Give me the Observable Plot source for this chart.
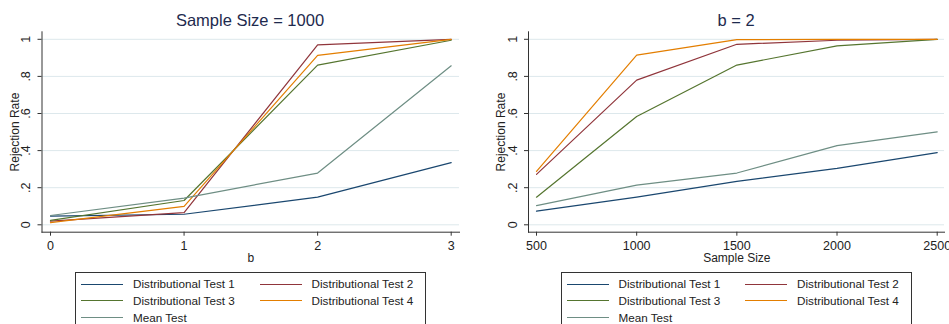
<!DOCTYPE html>
<html>
<head>
<meta charset="utf-8">
<script src="https://cdn.jsdelivr.net/npm/d3@7"></script>
<script src="https://cdn.jsdelivr.net/npm/@observablehq/plot@0.6"></script>
<style>
  html, body { margin: 0; padding: 0; background: #fff; }
  #root { position: relative; width: 949px; height: 324px; overflow: hidden; background: #fff;
          font-family: "Liberation Sans", Arial, Helvetica, sans-serif; }
  .title { position: absolute; top: 8px; text-align: center; font-size: 16.5px; color: #1e2a4e; line-height: 24px; }
  .panel { position: absolute; top: 28px; }
  .legend { position: absolute; top: 271.5px; height: 70px; border: 1px solid #333; box-sizing: border-box; background: #fff; }
  .item { position: absolute; height: 16px; font-size: 11.7px; color: #222; line-height: 16px; white-space: nowrap; }
  .item .sw { position: absolute; top: 7.5px; width: 42px; height: 0; border-top: 1.3px solid; }
  .item .lb { position: absolute; top: 0; }
</style>
</head>
<body>
<div id="root"></div>
<script>
// ---- data ----
const seriesNames = ["Distributional Test 1", "Distributional Test 2", "Distributional Test 3", "Distributional Test 4", "Mean Test"];
const bValues = [0, 1, 2, 3];
const sampleSizes = [500, 1000, 1500, 2000, 2500];
const yTicks = [0, 0.2, 0.4, 0.6, 0.8, 1];

// Left panel: Sample Size = 1000, x = b
const leftDT1  = [0.047, 0.057, 0.149, 0.335];
const leftDT2  = [0.020, 0.066, 0.970, 1.000];
const leftDT3  = [0.024, 0.131, 0.861, 0.995];
const leftDT4  = [0.012, 0.099, 0.913, 1.000];
const leftMean = [0.050, 0.144, 0.279, 0.857];

// Right panel: b = 2, x = Sample Size
const rightDT1  = [0.074, 0.149, 0.234, 0.304, 0.389];
const rightDT2  = [0.272, 0.780, 0.973, 0.995, 1.000];
const rightDT3  = [0.149, 0.584, 0.861, 0.965, 1.000];
const rightDT4  = [0.288, 0.915, 0.998, 1.000, 1.000];
const rightMean = [0.103, 0.214, 0.279, 0.427, 0.501];

// ---- styles ----
const seriesColors = ["#1a476f", "#90353b", "#55752f", "#e37e00", "#6e8e84"];
const fontFamily = '"Liberation Sans", Arial, Helvetica, sans-serif';
const stataFmt = v => v === 0 ? "0" : v === 1 ? "1" : String(+v.toFixed(2)).replace(/^0/, "");

function buildPanel({xValues, series, xLabel, width, marginLeft, marginRight, insetLeft, insetRight}) {
  const rows = [];
  series.forEach((vals, i) => vals.forEach((v, j) => rows.push({x: xValues[j], y: v, s: seriesNames[i]})));
  const xMid = (xValues[0] + xValues[xValues.length - 1]) / 2;
  return Plot.plot({
    width, height: 242,
    marginTop: 3.3, marginBottom: 38.3, marginLeft, marginRight,
    style: {fontFamily, color: "#222", background: "transparent"},
    x: {type: "linear", domain: [xValues[0], xValues[xValues.length - 1]], insetLeft, insetRight},
    y: {domain: [0, 1], insetTop: 7.5, insetBottom: 7.4},
    color: {domain: seriesNames, range: seriesColors},
    marks: [
      Plot.gridY({ticks: yTicks, stroke: "#dde8ec", strokeOpacity: 1, strokeWidth: 1}),
      Plot.line(rows, {x: "x", y: "y", z: "s", stroke: "s", strokeWidth: 1.2}),
      Plot.frame({anchor: "left", stroke: "#333", strokeWidth: 1}),
      Plot.frame({anchor: "bottom", stroke: "#333", strokeWidth: 1}),
      Plot.axisX({ticks: xValues, tickSize: 4, tickFormat: () => "", label: null, stroke: "#333"}),
      Plot.axisY({ticks: yTicks, tickSize: 4, tickFormat: () => "", label: null, stroke: "#333"}),
      Plot.text(xValues, {x: d => d, text: d => String(d), frameAnchor: "bottom", dy: 13.3,
        textAnchor: "middle", lineAnchor: "middle", fontSize: 12.5, fill: "#222"}),
      Plot.text(yTicks, {y: d => d, text: stataFmt, frameAnchor: "left", dx: -16, rotate: -90,
        textAnchor: "middle", lineAnchor: "middle", fontSize: 12.5, fill: "#222"}),
      Plot.text([0.5], {y: d => d, text: () => "Rejection Rate", frameAnchor: "left", dx: -27, rotate: -90,
        textAnchor: "middle", lineAnchor: "middle", fontSize: 12, fill: "#222"}),
      Plot.text([xMid], {x: d => d, text: () => xLabel, frameAnchor: "bottom", dy: 26.3,
        textAnchor: "middle", lineAnchor: "middle", fontSize: 12, fill: "#222"})
    ]
  });
}

const root = document.getElementById("root");

function addTitle(text, centerX) {
  const t = document.createElement("div");
  t.className = "title";
  t.style.left = (centerX - 200) + "px";
  t.style.width = "400px";
  t.textContent = text;
  root.appendChild(t);
}

function addPanel(svg, left) {
  const d = document.createElement("div");
  d.className = "panel";
  d.style.left = left + "px";
  d.appendChild(svg);
  root.appendChild(d);
}

function addLegend(left) {
  const box = document.createElement("div");
  box.className = "legend";
  box.style.left = left + "px";
  box.style.width = "351px";
  root.appendChild(box);
  const pos = [[0, 0], [1, 0], [0, 1], [1, 1], [0, 2]];
  seriesNames.forEach((name, i) => {
    const [c, r] = pos[i];
    const it = document.createElement("div");
    it.className = "item";
    it.style.left = (5 + c * 178.5) + "px";
    it.style.top = (3.5 + r * 16.8) + "px";
    it.style.width = "170px";
    const sw = document.createElement("div");
    sw.className = "sw";
    sw.style.left = "0px";
    sw.style.borderTopColor = seriesColors[i];
    const lb = document.createElement("div");
    lb.className = "lb";
    lb.style.left = "52px";
    lb.textContent = name;
    it.appendChild(sw);
    it.appendChild(lb);
    box.appendChild(it);
  });
}

addTitle("Sample Size = 1000", 250);
addTitle("b = 2", 736);

addPanel(buildPanel({
  xValues: bValues,
  series: [leftDT1, leftDT2, leftDT3, leftDT4, leftMean],
  xLabel: "b",
  width: 474, marginLeft: 41.5, marginRight: 15, insetLeft: 8.5, insetRight: 8.3
}), 0);

addPanel(buildPanel({
  xValues: sampleSizes,
  series: [rightDT1, rightDT2, rightDT3, rightDT4, rightMean],
  xLabel: "Sample Size",
  width: 475, marginLeft: 54, marginRight: 5, insetLeft: 8, insetRight: 7.3
}), 474);

addLegend(75);
addLegend(560.5);
</script>
</body>
</html>
